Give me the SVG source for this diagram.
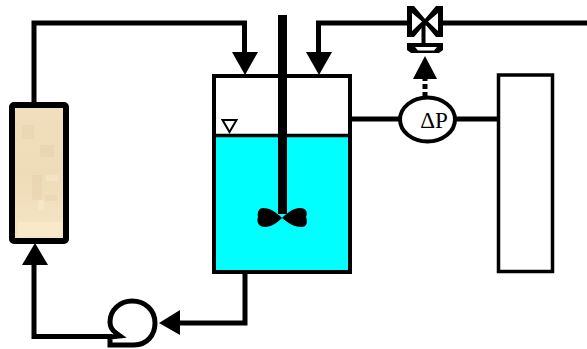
<svg xmlns="http://www.w3.org/2000/svg" width="587" height="349" viewBox="0 0 587 349">
<defs>
<style>
.l{fill:none;stroke:#000;stroke-width:5}
.b{fill:#000;stroke:none}
.o{stroke:#000;stroke-width:4}
.d{fill:#d9bf94;opacity:.2}
.e{fill:#fff3d8;opacity:.35}
text{font-family:"Liberation Serif","Times New Roman",serif;font-size:23px;fill:#000}
</style>
<linearGradient id="sand" x1="0" y1="0" x2="0" y2="1">
<stop offset="0" stop-color="#f1dfbd"/><stop offset="0.5" stop-color="#eedbb7"/><stop offset="1" stop-color="#f6e5c5"/>
</linearGradient>
</defs>
<rect width="587" height="349" fill="#fff"/>
<g id="connectors">
<path class="l" d="M34 104V23H244.500V52"/>
<path class="l" d="M587 23H318.500V52"/>
<path class="l" d="M34 265V336.500H112"/>
<path class="l" d="M245 271V323H178"/>
<path class="l" d="M351 119H400"/>
<path class="l" d="M456 119H498"/>
<path class="l" stroke-dasharray="5 3" d="M425 97V78"/>
<polygon class="b" points="232,52 258,52 245,75"/>
<polygon class="b" points="306,52 332,52 319,75"/>
<polygon class="b" points="413,79 437,79 425,56"/>
<polygon class="b" points="22,265 48,265 35,243"/>
<polygon class="b" points="180,310 180,335 159,323"/>
</g>
<g id="column">
<rect x="12" y="105" width="54" height="136" rx="2" fill="url(#sand)"/>
<rect class="d" x="40" y="145" width="14" height="12"/>
<rect class="d" x="22" y="125" width="12" height="14"/>
<rect class="d" x="32" y="175" width="10" height="25"/>
<rect class="d" x="45" y="195" width="12" height="6"/>
<rect class="e" x="18" y="222" width="44" height="14"/>
<rect class="e" x="46" y="175" width="12" height="6"/>
<rect class="e" x="38" y="200" width="6" height="10"/>
<rect x="12" y="105" width="54" height="136" rx="2" fill="none" stroke="#000" stroke-width="6"/>
</g>
<g id="pump">
<path d="M110 345H134C147 345 155 335 155 323C155 310 145 301 132 301C120 301 110 310 110 322C110 328 113 331 116 333L120 336L110 337Z" fill="#fff" stroke="#000" stroke-width="5"/>
</g>
<g id="tank">
<rect x="214" y="76" width="136" height="196" fill="#fff" stroke="none"/>
<rect x="214" y="136" width="136" height="136" fill="#0ff"/>
<path d="M214 135.500H350" stroke="#000" stroke-width="3.500" fill="none"/>
<rect x="214" y="76" width="136" height="196" fill="none" class="o"/>
<polygon points="222.500,120 236.500,120 229.500,132" fill="#fff" stroke="#000" stroke-width="2"/>
</g>
<g id="impeller">
<rect x="278" y="15" width="9" height="199" class="b"/>
<path class="b" d="M282 218C276 212 270 208 263 208C259 208 257 212 258 217C256 222 259 227 265 227C271 227 277 223 282 218C288 223 294 227 301 227C307 227 308 222 306 217C308 212 306 208 300 208C294 208 288 212 282 218Z"/>
</g>
<g id="valve">
<path class="b" d="M407 6H414L425 19L436 6H443V37H436L425 24L414 37H407Z"/>
<polygon points="412,13 412,31 422,21.500" fill="#fff"/>
<polygon points="438,13 438,31 428,21.500" fill="#fff"/>
<rect x="421.500" y="24" width="4" height="20" class="b"/>
<path class="b" d="M407 43H443V50L439 53H411L407 50Z"/>
<path d="M415 47H437L434 50.500H418Z" fill="#fff"/>
</g>
<g id="dp">
<ellipse cx="427.500" cy="119.500" rx="27.500" ry="22" fill="#fff" stroke="#000" stroke-width="4"/>
<text x="434" y="128" text-anchor="middle">ΔP</text>
</g>
<g id="vessel">
<rect x="498.500" y="75" width="54" height="196.500" fill="#fff" stroke="#000" stroke-width="3.500"/>
</g>
</svg>
